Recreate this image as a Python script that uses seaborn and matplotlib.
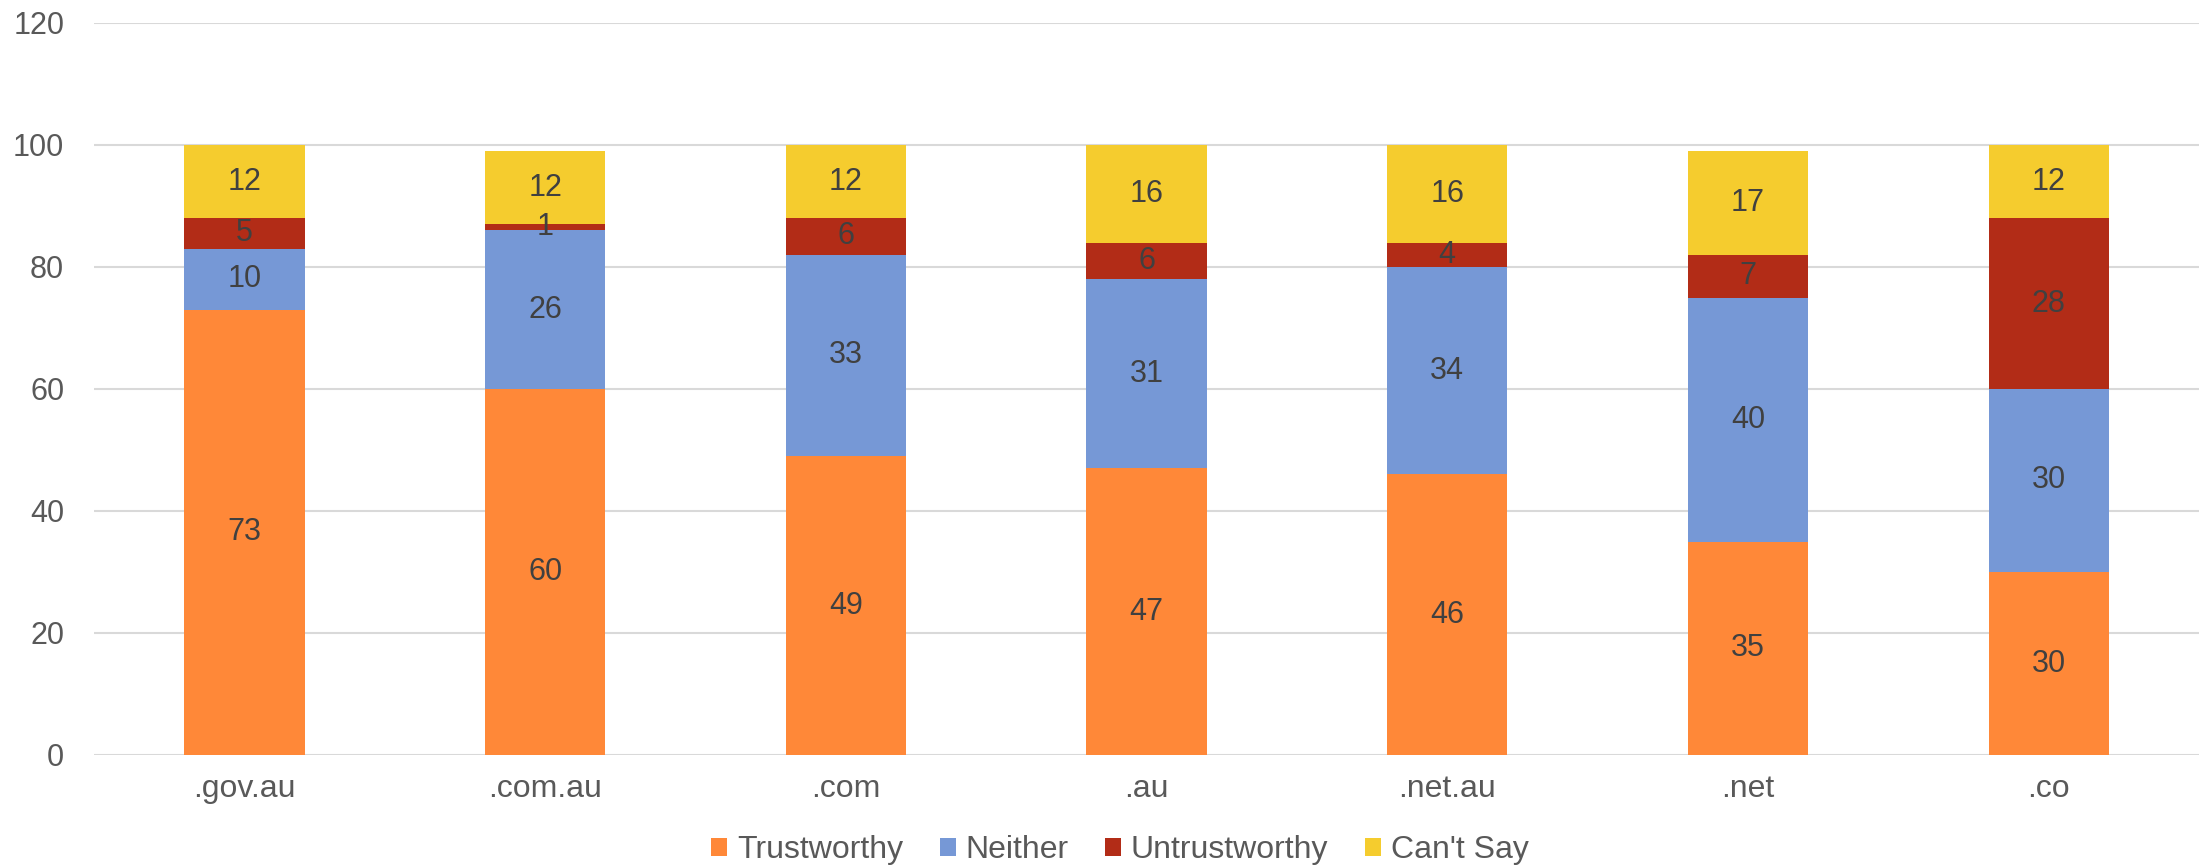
import matplotlib
matplotlib.use("Agg")
import matplotlib.pyplot as plt
import seaborn as sns
import pandas as pd
import numpy as np
from matplotlib.patches import Patch

categories = [".gov.au", ".com.au", ".com", ".au", ".net.au", ".net", ".co"]
trustworthy = [73, 60, 49, 47, 46, 35, 30]
neither = [10, 26, 33, 31, 34, 40, 30]
untrustworthy = [5, 1, 6, 6, 4, 7, 28]
cant_say = [12, 12, 12, 16, 16, 17, 12]
series_names = ["Trustworthy", "Neither", "Untrustworthy", "Can't Say"]
colors = ["#FF8838", "#7698D6", "#B22C17", "#F5CC2E"]

sns.set_theme(style="white")
plt.rcParams["font.family"] = ["Liberation Sans", "DejaVu Sans"]

series = [trustworthy, neither, untrustworthy, cant_say]
cum = np.cumsum(np.array(series), axis=0)

fig = plt.figure(figsize=(21.99, 8.68), dpi=100)
ax = fig.add_axes([94 / 2199, 1 - 755 / 868, (2199 - 94) / 2199, (755 - 23) / 868])

# gridlines beneath
for yv in range(0, 121, 20):
    ax.axhline(yv, color="#D9D9D9", lw=1.5, zorder=0)

for i in range(len(series) - 1, -1, -1):
    df = pd.DataFrame({"cat": categories, "val": cum[i]})
    sns.barplot(data=df, x="cat", y="val", color=colors[i], width=0.4,
                saturation=1, ax=ax, zorder=2, linewidth=0, order=categories)

for i, s in enumerate(series):
    for j, v in enumerate(s):
        mid = cum[i][j] - v / 2
        ax.text(j, mid, f"{v}", ha="center", va="center", fontsize=22,
                color="#404040", zorder=3)

ax.set_ylim(0, 120)
ax.set_xlim(-0.5, len(categories) - 0.5)
ax.set_yticks(range(0, 121, 20))
ax.set_xlabel("")
ax.set_ylabel("")
for sp in ax.spines.values():
    sp.set_visible(False)
ax.tick_params(axis="both", length=0, colors="#595959")
ax.tick_params(axis="y", pad=21.5, labelsize=22)
ax.tick_params(axis="x", pad=14, labelsize=23)
for lbl in ax.get_yticklabels():
    lbl.set_horizontalalignment("right")

handles = [Patch(facecolor=c, edgecolor="none", label=n) for c, n in zip(colors, series_names)]
leg = fig.legend(handles=handles, loc="center", bbox_to_anchor=(1120 / 2199, 1 - 850 / 868),
                 ncol=4, frameon=False, fontsize=23, handlelength=0.5, handleheight=0.5,
                 handletextpad=0.3, columnspacing=1.15)
for t in leg.get_texts():
    t.set_color("#595959")

fig.savefig("out.png", dpi=100)
